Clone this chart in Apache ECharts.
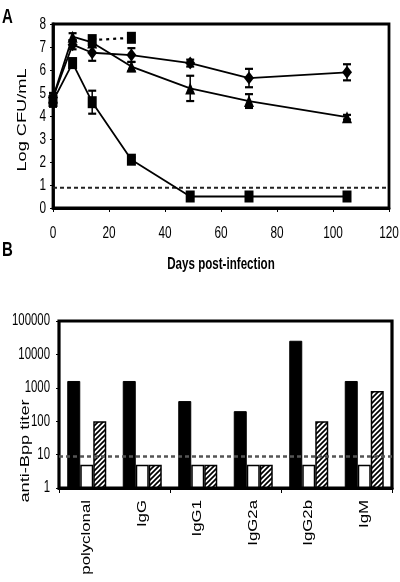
<!DOCTYPE html>
<html><head><meta charset="utf-8">
<script src="https://cdn.jsdelivr.net/npm/echarts@6/dist/echarts.min.js"></script>
<style>html,body{margin:0;padding:0;background:#fff}#c{width:400px;height:582px}</style>
</head><body><div id="c"></div>
<script>
// ---- Panel A data ----
const days = [0, 7, 14, 28, 49, 70, 105];
const diamondVals = [4.8, 7.1, 6.75, 6.65, 6.3, 5.65, 5.9];
const diamondErr = [0.2, 0.2, 0.35, 0.3, 0.15, 0.4, 0.35];
const triangleVals = [4.8, 7.45, 7.2, 6.15, 5.2, 4.65, 3.95];
const triangleErr = [0.2, 0.15, 0.15, 0.2, 0.55, 0.3, 0.1];
const squareVals = [4.65, 6.3, 4.6, 2.1, 0.5, 0.5, 0.5];
const squareErr = [0.25, 0.2, 0.5, 0.1, 0, 0, 0];
const dottedDays = [14, 28];
const dottedVals = [7.3, 7.4];
const limitA = 0.88;
const xTicksA = [0, 20, 40, 60, 80, 100, 120];
const yTicksA = [0, 1, 2, 3, 4, 5, 6, 7, 8];
// ---- Panel B data ----
const isotypes = ['polyclonal', 'IgG', 'IgG1', 'IgG2a', 'IgG2b', 'IgM'];
const blackTiters = [1600, 1600, 400, 200, 25600, 1600];
const whiteTiters = [5, 5, 5, 5, 5, 5];
const hatchTiters = [100, 5, 5, 5, 100, 800];
const limitB = 9;
const yTicksB = [1, 10, 100, 1000, 10000, 100000];

const FONT = '"Liberation Sans", Arial, sans-serif';
const STRETCH = 1.4;
function pairs(xs, ys) { return xs.map((x, i) => [x, ys[i]]); }
function errs(xs, ys, es) { return xs.map((x, i) => [x, ys[i] - es[i], ys[i] + es[i]]).filter((d, i) => es[i] > 0); }

const hatch = document.createElement('canvas');
hatch.width = 5; hatch.height = 5;
(function () {
  const g = hatch.getContext('2d');
  g.fillStyle = '#fff'; g.fillRect(0, 0, 5, 5);
  g.strokeStyle = '#000'; g.lineWidth = 1.7;
  g.beginPath();
  g.moveTo(-1, 6); g.lineTo(6, -1);
  g.moveTo(-1, 1); g.lineTo(1, -1);
  g.moveTo(4, 6); g.lineTo(6, 4);
  g.stroke();
})();

function errRender(params, api) {
  const x = api.value(0);
  const lo = api.coord([x, api.value(1)]);
  const hi = api.coord([x, api.value(2)]);
  const w = 4;
  return { type: 'group', children: [
    { type: 'line', shape: { x1: lo[0], y1: lo[1], x2: hi[0], y2: hi[1] }, style: { stroke: '#000', lineWidth: 1.5 } },
    { type: 'line', shape: { x1: lo[0] - w, y1: lo[1], x2: lo[0] + w, y2: lo[1] }, style: { stroke: '#000', lineWidth: 2.2 } },
    { type: 'line', shape: { x1: hi[0] - w, y1: hi[1], x2: hi[0] + w, y2: hi[1] }, style: { stroke: '#000', lineWidth: 2.2 } }
  ] };
}

const chart = echarts.init(document.getElementById('c'), null, { renderer: 'canvas' });
chart.setOption({
  animation: false,
  backgroundColor: '#fff',
  textStyle: { fontFamily: FONT },
  grid: [
    { left: 53, top: 24, width: 336, height: 184, show: true, borderColor: '#000', borderWidth: 2.8, backgroundColor: 'transparent' },
    { left: 59, top: 321, width: 333, height: 167, show: true, borderColor: '#000', borderWidth: 3.2, backgroundColor: 'transparent' }
  ],
  xAxis: [
    { gridIndex: 0, type: 'value', min: 0, max: 120, interval: 20,
      axisLine: { lineStyle: { color: '#000', width: 2.8 } },
      axisTick: { show: true, length: 4, lineStyle: { color: '#000' } },
      axisLabel: { show: false },
      splitLine: { show: false } },
    { gridIndex: 1, type: 'category', data: isotypes,
      axisLine: { lineStyle: { color: '#000', width: 3.2 } },
      axisTick: { show: true, length: 5, lineStyle: { color: '#000' } },
      axisLabel: { show: false } }
  ],
  yAxis: [
    { gridIndex: 0, type: 'value', min: 0, max: 8, interval: 1,
      axisLine: { show: true, lineStyle: { color: '#000', width: 2.8 } },
      axisTick: { show: true, length: 3, lineStyle: { color: '#000' } },
      axisLabel: { show: false },
      splitLine: { show: false } },
    { gridIndex: 1, type: 'log', min: 1, max: 100000, logBase: 10,
      axisLine: { show: true, lineStyle: { color: '#000', width: 2 } },
      axisTick: { show: true, length: 3, lineStyle: { color: '#000' } },
      axisLabel: { show: false },
      splitLine: { show: false } }
  ],
  series: [
    { type: 'line', xAxisIndex: 0, yAxisIndex: 0, data: [[0, limitA], [120, limitA]], symbol: 'none', silent: true,
      lineStyle: { color: '#222', width: 2, type: [4, 3] }, z: 1 },
    { type: 'line', xAxisIndex: 0, yAxisIndex: 0, data: pairs(days, diamondVals), symbol: 'diamond', symbolSize: [10, 13],
      itemStyle: { color: '#000' }, lineStyle: { color: '#000', width: 1.8 } },
    { type: 'line', xAxisIndex: 0, yAxisIndex: 0, data: pairs(days, triangleVals), symbol: 'triangle', symbolSize: [10, 12],
      itemStyle: { color: '#000' }, lineStyle: { color: '#000', width: 1.8 } },
    { type: 'line', xAxisIndex: 0, yAxisIndex: 0, data: pairs(days, squareVals), symbol: 'rect', symbolSize: [9, 12],
      itemStyle: { color: '#000' }, lineStyle: { color: '#000', width: 1.8 } },
    { type: 'line', xAxisIndex: 0, yAxisIndex: 0, data: pairs(dottedDays, dottedVals), symbol: 'rect', symbolSize: [9, 12],
      itemStyle: { color: '#000' }, lineStyle: { color: '#000', width: 2.2, type: [3, 4] } },
    { type: 'custom', xAxisIndex: 0, yAxisIndex: 0, renderItem: errRender, data: errs(days, diamondVals, diamondErr), z: 3 },
    { type: 'custom', xAxisIndex: 0, yAxisIndex: 0, renderItem: errRender, data: errs(days, triangleVals, triangleErr), z: 3 },
    { type: 'custom', xAxisIndex: 0, yAxisIndex: 0, renderItem: errRender, data: errs(days, squareVals, squareErr), z: 3 },

    { type: 'bar', xAxisIndex: 1, yAxisIndex: 1, data: blackTiters, barWidth: 13, barGap: '0%',
      itemStyle: { color: '#000', borderColor: '#000', borderWidth: 1 },
      markLine: { silent: true, symbol: 'none', label: { show: false },
        lineStyle: { color: '#555', width: 2.5, type: [4, 3] }, data: [{ yAxis: limitB }] } },
    { type: 'bar', xAxisIndex: 1, yAxisIndex: 1, data: whiteTiters, barWidth: 13, barGap: '0%',
      itemStyle: { color: '#fff', borderColor: '#000', borderWidth: 1.5 } },
    { type: 'bar', xAxisIndex: 1, yAxisIndex: 1, data: hatchTiters, barWidth: 13, barGap: '0%',
      itemStyle: { color: { image: hatch, repeat: 'repeat' }, borderColor: '#000', borderWidth: 1.5 } }
  ]
});

// The original figure is vertically stretched, so texts are drawn with a matching scale.
function hText(text, x, y, size, align, bold) {
  return { type: 'text', x: x, y: y, scaleY: STRETCH, z: 10,
    style: { text: text, font: (bold ? 'bold ' : '') + size + 'px ' + FONT, fill: '#000', align: align, verticalAlign: 'middle' } };
}
function vText(text, x, y, size, align) {
  return { type: 'text', x: x, y: y, rotation: Math.PI / 2, scaleX: STRETCH, z: 10,
    style: { text: text, font: size + 'px ' + FONT, fill: '#000', align: align, verticalAlign: 'middle' } };
}
const gA = { xAxisIndex: 0, yAxisIndex: 0 };
const gB = { xAxisIndex: 1, yAxisIndex: 1 };
const gfx = [
  hText('A', 2, 17, 15, 'left', true),
  hText('B', 2, 250, 15, 'left', true),
  vText('Log CFU/mL', 22, 120, 13, 'center'),
  vText('anti-Bpp titer', 25, 451, 13, 'center'),
  hText('Days post-infection', 221, 265, 11.6, 'center', true)
];
xTicksA.forEach(function (v) {
  const p = chart.convertToPixel(gA, [v, 0]);
  gfx.push(hText(String(v), p[0], p[1] + 25, 11.8, 'center', false));
});
yTicksA.forEach(function (v) {
  const p = chart.convertToPixel(gA, [0, v]);
  gfx.push(hText(String(v), p[0] - 7, p[1], 11.8, 'right', false));
});
yTicksB.forEach(function (v) {
  const p = chart.convertToPixel(gB, [isotypes[0], v]);
  gfx.push(hText(String(v), 50, p[1], 11.4, 'right', false));
});
isotypes.forEach(function (name) {
  const p = chart.convertToPixel(gB, [name, 1]);
  gfx.push(vText(name, p[0], p[1] + 12, 12, 'right'));
});
chart.setOption({ graphic: gfx });
</script></body></html>
